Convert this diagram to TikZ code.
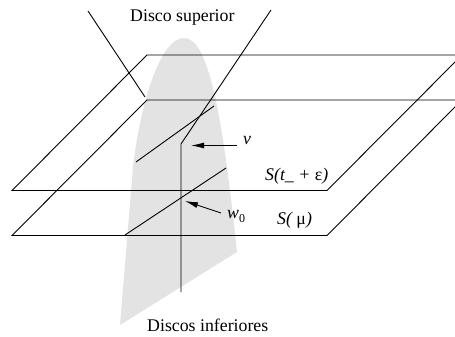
\documentclass[tikz,border=0pt]{standalone}
\usepackage{fontspec}
\setmainfont{Liberation Serif}
\usepackage{tikz}
\usetikzlibrary{arrows.meta, positioning}

\begin{document}
\begin{tikzpicture}[x=1pt, y=-1pt, >={Latex[length=13pt,width=6pt]},
  plano/.style={draw=black, line width=0.9pt},
  curva/.style={draw=black, line width=0.9pt},
  seta/.style={->, draw=black, line width=0.9pt},
  rotulo/.style={inner sep=0pt, anchor=base west, font=\fontsize{17.8}{20}\selectfont},
  rotuloit/.style={inner sep=0pt, anchor=base west, font=\fontsize{17.8}{20}\selectfont\itshape},
  disco/.style={fill=black!11, draw=none}]

  \useasboundingbox (0,0) rectangle (455,337);

  \path[disco] (120,325) -- (133,167) .. controls (140,105) and (160,38) .. (184,38)
    .. controls (208,38) and (222,110) .. (237,252) -- cycle;

  \clip (0,0) rectangle (455,337);

  \draw[plano] (455,55) -- (147,55) -- (12,190.5) -- (327,190.5) -- (462,55);
  \draw[plano] (455,100) -- (147,100) -- (12,235.5) -- (327,235.5) -- (462,100);

  \coordinate (supEsq) at (88,11);
  \coordinate (supEsqFim) at (145,97);
  \coordinate (supDir) at (271,10);
  \coordinate (dobra) at (181,144);
  \coordinate (baixo) at (181,292);
  \coordinate (corteA) at (136,162);
  \coordinate (corteB) at (214,106);
  \coordinate (corteC) at (125,235);
  \coordinate (corteD) at (226,168);
  \coordinate (pontaV) at (191,145.5);
  \coordinate (pontaW) at (185,201);
  \coordinate (caudaV) at (237,145.5);
  \coordinate (caudaW) at (221,213);

  \draw[curva] (supEsq) -- (supEsqFim);
  \draw[curva] (supDir) -- (dobra) -- (baixo);
  \draw[curva] (corteA) -- (corteB);
  \draw[curva] (corteC) -- (corteD);

  \node[rotulo] (superior) at (130,22) {Disco superior};
  \node[rotulo] (inferiores) at (147,331) {Discos inferiores};
  \node[rotuloit] (v) at (243,144) {v};
  \node[rotuloit] (w) at (227,218) {w\raisebox{-4pt}{\fontsize{12}{13}\selectfont\upshape 0}};
  \node[rotuloit] (st) at (265,180) {S(t\_ + {\upshape ε})};
  \node[rotuloit] (smu) at (277,224) {S( {\upshape μ})};

  \draw[seta] (caudaV) -- (pontaV);
  \draw[seta] (caudaW) -- (pontaW);
\end{tikzpicture}
\end{document}
